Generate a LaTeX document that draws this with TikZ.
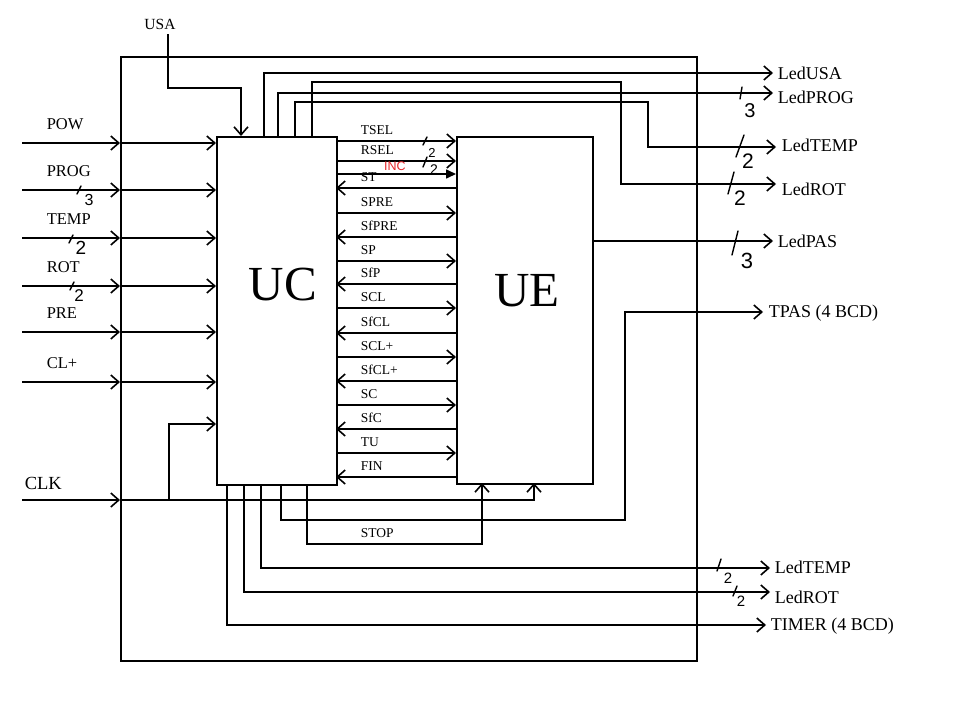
\documentclass[tikz,border=0pt]{standalone}
\usepackage{fontspec}
\setmainfont{Liberation Serif}
\newfontfamily\handfont{Liberation Sans}
\usetikzlibrary{arrows.meta}
\definecolor{incred}{HTML}{E8262A}
% bus mark: name, slash centre x, y, half height, lean, digit position, digit, size
\newcommand{\busm}[8]{%
  \draw[busline] ({#2-#5},{#3+#4}) -- ({#2+#5},{#3-#4});
  \node[digit, font=\handfont\fontsize{#8}{#8}\selectfont] (#1) at (#6) {#7};}
\begin{document}
\begin{tikzpicture}[x=1pt,y=-1pt, line width=1.6pt,
  >={Straight Barb[length=8pt,width=14pt]},
  busline/.style={line width=1.4pt, line cap=round},
  inlbl/.style={font=\fontsize{16.5}{18}\selectfont, anchor=west, inner sep=0},
  outlbl/.style={font=\fontsize{18}{20}\selectfont, anchor=west, inner sep=0},
  siglbl/.style={font=\fontsize{13.5}{15}\selectfont, anchor=west, inner sep=0},
  biglbl/.style={font=\fontsize{49}{51}\selectfont, inner sep=0},
  digit/.style={inner sep=0},
  block/.style={draw, anchor=north west, inner sep=0}]
\useasboundingbox (0,0) rectangle (960,720);
\fill[white] (0,0) rectangle (960,720);

% blocks
\node[block, minimum width=576pt, minimum height=604pt] (outer) at (120,56) {};
\node[block, minimum width=120pt, minimum height=348pt] (UC) at (216,136) {};
\node[block, minimum width=136pt, minimum height=347pt] (UE) at (456,136) {};
\node[biglbl] (ucl) at (283,285) {UC};
\node[biglbl] (uel) at (527,291) {UE};

% inputs
\foreach \y/\t/\n in {143/POW/pow,190/PROG/prog,238/TEMP/temp,286/ROT/rot,332/PRE/pre,382/CL+/clp}{
  \node[inlbl] (l\n) at (46,{\y-19}) {\t};
  \draw[->] (22,\y) -- (120,\y);
  \draw[->] (120,\y) -- (216,\y);
}
\busm{bprog}{79}{190}{4}{2}{89,200}{3}{16}
\busm{btemp}{71}{239}{4}{2}{81,248}{2}{19}
\busm{brot}{72}{286}{4}{2}{79,296}{2}{17}

% USA
\node[font=\fontsize{15.5}{17}\selectfont, inner sep=0] (usa) at (160,24) {USA};
\draw[->] (168,34) |- (241,88) -- (241,136);

% CLK
\node[font=\fontsize{18.5}{20}\selectfont, anchor=west, inner sep=0] (clk) at (24,483) {CLK};
\draw[->] (22,500) -- (120,500);
\draw[->] (120,500) -| (534,483);
\draw[->] (169,500) |- (216,424);

% signals UC -> UE
\foreach \y/\t/\n in {141/TSEL/tsel,161/RSEL/rsel,213/SPRE/spre,261/SP/sp,308/SCL/scl,357/SCL+/sclp,405/SC/sc,453/TU/tu}{
  \node[siglbl] (s\n) at (360,{\y-11}) {\t};
  \draw[->] (336,\y) -- (456,\y);
}
% signals UE -> UC
\foreach \y/\t/\n in {188/ST/st,237/SfPRE/sfpre,284/SfP/sfp,333/SfCL/sfcl,381/SfCL+/sfclp,429/SfC/sfc,477/FIN/fin}{
  \node[siglbl] (s\n) at (360,{\y-11}) {\t};
  \draw[->] (456,\y) -- (336,\y);
}
\draw[-{Triangle[length=10pt,width=9pt]}] (338,174) -- (456,174);
\node[font=\handfont\fontsize{12.5}{13}\selectfont, text=incred, inner sep=0] (inc) at (395,166) {INC};
\busm{btsel}{425}{141}{4}{2}{432,153}{2}{13}
\busm{brsel}{425}{162}{5}{2}{434,170}{2}{14}

% top outputs
\draw[->] (264,136) |- (773,73);
\node[outlbl] (ledusa) at (777,73) {LedUSA};
\draw[->] (278,136) |- (773,93);
\node[outlbl] (ledprog) at (777,97) {LedPROG};
\busm{bledprog}{741}{93}{6}{1}{750,111}{3}{20}
\draw[->] (295,136) |- (648,102) |- (776,147);
\node[outlbl] (ledtemp) at (781,145) {LedTEMP};
\busm{bledtemp}{740}{146}{11}{4}{748,161}{2}{21}
\draw[->] (312,136) |- (621,82) |- (776,184);
\node[outlbl] (ledrot) at (781,189) {LedROT};
\busm{bledrot}{731}{183}{11}{3}{740,198}{2}{21}
\draw[->] (592,241) -- (773,241);
\node[outlbl] (ledpas) at (777,241) {LedPAS};
\busm{bledpas}{735}{243}{12}{3}{747,261}{3}{22}
\draw[->] (281,484) |- (625,520) |- (763,312);
\node[outlbl] (tpas) at (768,313) {TPAS (4 BCD)};

% STOP
\draw[->] (307,484) |- (482,544) -- (482,483);
\node[siglbl] (stop) at (360,533) {STOP};

% bottom outputs
\draw[->] (261,484) |- (770,568);
\node[outlbl] (ledtemp2) at (774,567) {LedTEMP};
\busm{bledtemp2}{719}{565}{6}{2}{728,578}{2}{15}
\draw[->] (244,484) |- (770,592);
\node[outlbl] (ledrot2) at (774,597) {LedROT};
\busm{bledrot2}{735}{591}{5}{2}{741,601}{2}{15}
\draw[->] (227,484) |- (766,625);
\node[outlbl] (timer) at (770,626) {TIMER (4 BCD)};
\end{tikzpicture}
\end{document}
